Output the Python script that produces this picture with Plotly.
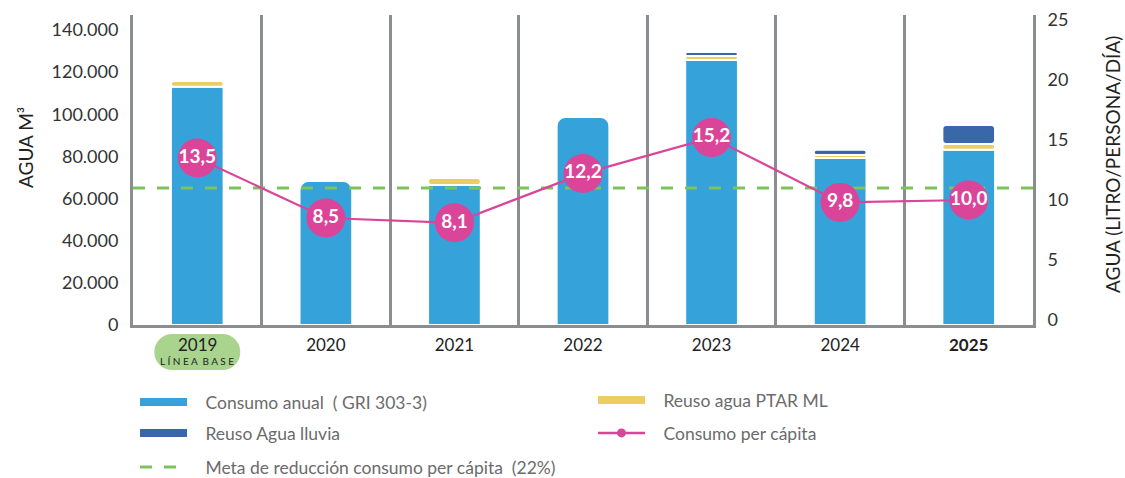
import plotly.graph_objects as go

# ---------------- data ----------------
YEARS = ["2019", "2020", "2021", "2022", "2023", "2024", "2025"]
TICK_TEXT = ["", "2020", "2021", "2022", "2023", "2024", "<b>2025</b>"]
CONSUMO_ANUAL = [113000, 68300, 66400, 98700, 125800, 79300, 83100]
REUSO_PTAR = [2800, 0, 3300, 0, 1900, 1400, 2800]
REUSO_LLUVIA = [0, 0, 0, 0, 1900, 2400, 9000]
CONSUMO_PC = [13.5, 8.5, 8.1, 12.2, 15.2, 9.8, 10.0]
META_PC = 11.0
LEFT_TICKS = [0, 20000, 40000, 60000, 80000, 100000, 120000, 140000]
RIGHT_TICKS = [0, 5, 10, 15, 20, 25]
BASE_LABEL = "LÍNEA BASE"

# ---------------- styles ----------------
BLUE = "#35A3DA"
DARK = "#3A67A9"
YELLOW = "#EBCD62"
PINK = "#DA4599"
GREEN = "#7CC35A"
PILL = "#A9D48E"
AXIS = "#8B8E90"
FONT = "Lato"
PAD = "\u00a0\u00a0\u00a0"

X = list(range(len(YEARS)))
X_RANGE = [-0.5, len(YEARS) - 0.5]


def nz(vals):
    return [v if v else None for v in vals]


base_ptar = CONSUMO_ANUAL
base_lluvia = [a + b for a, b in zip(CONSUMO_ANUAL, REUSO_PTAR)]

fig = go.Figure()

bar_line = dict(color="white", width=2)
fig.add_trace(go.Bar(x=X, y=CONSUMO_ANUAL, marker=dict(color=BLUE, line=bar_line, cornerradius=9),
                     width=0.41, showlegend=False, hoverinfo="skip"))
fig.add_trace(go.Bar(x=X, y=nz(REUSO_PTAR), base=base_ptar,
                     marker=dict(color=YELLOW, line=bar_line, cornerradius=3),
                     width=0.41, showlegend=False, hoverinfo="skip"))
fig.add_trace(go.Bar(x=X, y=nz(REUSO_LLUVIA), base=base_lluvia,
                     marker=dict(color=DARK, line=bar_line, cornerradius=4),
                     width=0.41, showlegend=False, hoverinfo="skip"))

# meta line (per-capita target) across the whole axis range
fig.add_trace(go.Scatter(x=X_RANGE, y=[META_PC, META_PC], yaxis="y2", mode="lines",
                         line=dict(color=GREEN, width=3, dash="12px,12px"),
                         name=PAD + "Meta de reducción consumo per cápita  (22%)",
                         legend="legend5", hoverinfo="skip"))

# per-capita line with labelled circles
fig.add_trace(go.Scatter(x=X, y=CONSUMO_PC, yaxis="y2", mode="lines+markers+text",
                         line=dict(color=PINK, width=2.2),
                         marker=dict(color=PINK, size=39),
                         texttemplate="%{y:.1f}", textposition="middle center",
                         textfont=dict(color="white", size=19, family=FONT, weight="bold"),
                         showlegend=False, hoverinfo="skip"))

# legend entries
proxy = dict(x=[None], y=[None], hoverinfo="skip")
fig.add_trace(go.Scatter(**proxy, mode="lines", line=dict(color=BLUE, width=8),
                         name=PAD + "Consumo anual  ( GRI 303-3)", legend="legend"))
fig.add_trace(go.Scatter(**proxy, mode="lines", line=dict(color=YELLOW, width=8),
                         name=PAD + "Reuso agua PTAR ML", legend="legend2"))
fig.add_trace(go.Scatter(**proxy, mode="lines", line=dict(color=DARK, width=8),
                         name=PAD + "Reuso Agua lluvia", legend="legend3"))
fig.add_trace(go.Scatter(**proxy, mode="lines+markers", line=dict(color=PINK, width=2.5),
                         marker=dict(color=PINK, size=9),
                         name=PAD + "Consumo per cápita", legend="legend4"))

# plot area: x 133..1033, y 15..325 (px)
L, R, T, B = 133, 92, 15, 153
PH = 478 - T - B


def py(px):
    return (478 - B - px) / PH


def px_(x):
    return (x - L) / (1125 - L - R)


leg_common = dict(orientation="h", xanchor="left", yanchor="middle", itemwidth=47,
                  font=dict(family=FONT, size=17.5, color="#6B6B6B"),
                  bgcolor="rgba(0,0,0,0)", itemclick=False, itemdoubleclick=False)

pill_y = py(352)
shapes = [
    dict(type="rect", xref="x", yref="paper", xsizemode="pixel", ysizemode="pixel",
         xanchor=YEARS.index("2019"), yanchor=pill_y, x0=-26, x1=26, y0=-18, y1=18,
         fillcolor=PILL, line=dict(width=0), layer="below"),
    dict(type="circle", xref="x", yref="paper", xsizemode="pixel", ysizemode="pixel",
         xanchor=YEARS.index("2019"), yanchor=pill_y, x0=-43, x1=-7, y0=-18, y1=18,
         fillcolor=PILL, line=dict(width=0), layer="below"),
    dict(type="circle", xref="x", yref="paper", xsizemode="pixel", ysizemode="pixel",
         xanchor=YEARS.index("2019"), yanchor=pill_y, x0=7, x1=43, y0=-18, y1=18,
         fillcolor=PILL, line=dict(width=0), layer="below"),
]

annotations = [
    dict(text="2019", x=YEARS.index("2019"), xref="x", y=py(344), yref="paper",
         showarrow=False, font=dict(family=FONT, size=17, color="#222"), yanchor="middle"),
    dict(text=" ".join(BASE_LABEL).replace("   ", "\u00a0\u00a0"), x=YEARS.index("2019"),
         xref="x", y=py(361), yref="paper",
         showarrow=False, font=dict(family=FONT, size=10, color="#222"), yanchor="middle"),
    dict(text="AGUA M³", x=px_(25), xref="paper", y=py(148), yref="paper", textangle=-90,
         showarrow=False, font=dict(family=FONT, size=19, color="#222"),
         xanchor="center", yanchor="middle"),
    dict(text="AGUA (LITRO/PERSONA/DÍA)", x=px_(1112), xref="paper", y=py(165), yref="paper",
         textangle=-90, showarrow=False, font=dict(family=FONT, size=19, color="#222"),
         xanchor="center", yanchor="middle"),
]

fig.update_layout(
    width=1125, height=478,
    margin=dict(l=L, r=R, t=T, b=B, pad=0, autoexpand=False),
    paper_bgcolor="white", plot_bgcolor="white",
    separators=",.",
    barmode="overlay",
    font=dict(family=FONT, color="#222"),
    xaxis=dict(range=X_RANGE, tickmode="array", tickvals=X, ticktext=TICK_TEXT,
               showgrid=False, zeroline=False, showline=True, linecolor=AXIS, linewidth=3,
               ticks="", ticklabelstandoff=3, tickfont=dict(family=FONT, size=17, color="#222"),
               minor=dict(tickmode="linear", tick0=0.5, dtick=1, showgrid=True,
                          gridcolor=AXIS, gridwidth=2.5, ticks=""),
               fixedrange=True),
    yaxis=dict(range=[0, 147100], tickmode="array", tickvals=LEFT_TICKS, tickformat=",d",
               showgrid=False, zeroline=False, showline=True, linecolor=AXIS, linewidth=3,
               ticks="", ticklabelstandoff=8,
               tickfont=dict(family=FONT, size=18, color="#333"), fixedrange=True),
    yaxis2=dict(range=[-0.42, 25.42], tickmode="array", tickvals=RIGHT_TICKS,
                overlaying="y", side="right", showgrid=False, zeroline=False,
                showline=True, linecolor=AXIS, linewidth=3, ticks="", ticklabelstandoff=8,
                tickfont=dict(family=FONT, size=18, color="#333"), fixedrange=True),
    legend=dict(x=px_(135), y=py(402), **leg_common),
    legend2=dict(x=px_(593), y=py(400), **leg_common),
    legend3=dict(x=px_(135), y=py(433), **leg_common),
    legend4=dict(x=px_(593), y=py(433), **leg_common),
    legend5=dict(x=px_(135), y=py(467), **leg_common),
    shapes=shapes,
    annotations=annotations,
    showlegend=True,
)

fig.write_html("out.html", config={"displayModeBar": False},
               post_script="document.body.style.margin='0';")
